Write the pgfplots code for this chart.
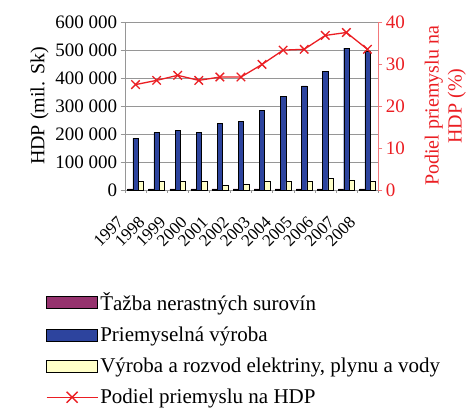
\documentclass[border=0pt]{standalone}
\usepackage{fontspec}
\setmainfont{Liberation Serif}
\usepackage{pgfplots}
\pgfplotsset{compat=1.18}

\definecolor{tazba}{RGB}{150,50,110}
\definecolor{vyroba}{RGB}{45,68,158}
\definecolor{energia}{RGB}{255,255,200}
\definecolor{gridgray}{RGB}{150,150,150}
\definecolor{podiel}{RGB}{235,30,35}

\pgfplotsset{
    boxlegend/.style={legend image code/.code={\draw[##1] (0pt,-6pt) rectangle (51pt,6pt);}},
    linelegend/.style={legend image code/.code={
        \draw[podiel, line width=1.3pt] (0pt,0pt) -- (51pt,0pt);
        \draw[podiel, line width=1.3pt] (20pt,-5.5pt) -- (31pt,5.5pt) (20pt,5.5pt) -- (31pt,-5.5pt);}},
}

\begin{document}
\begin{tikzpicture}
\begin{axis}[
    name=ax,
    scale only axis, width=253pt, height=168pt,
    xmin=-0.5, xmax=11.5, ymin=0, ymax=600000,
    ybar=0pt, bar width=5.3pt,
    axis y line*=left, axis x line*=bottom,
    axis line style={gridgray},
    xtick={0,...,11},
    xticklabels={1997,1998,1999,2000,2001,2002,2003,2004,2005,2006,2007,2008},
    major x tick style={draw=none},
    minor xtick={-0.5,0.5,...,11.5},
    minor x tick style={gridgray},
    ytick={0,100000,200000,300000,400000,500000,600000},
    yticklabels={0,100 000,200 000,300 000,400 000,500 000,600 000},
    scaled y ticks=false,
    y tick style={gridgray},
    tick align=outside,
    ymajorgrids, grid style={gridgray},
    yticklabel style={font=\fontsize{19}{20}\selectfont},
    xticklabel style={xshift=-19pt, yshift=-16pt, rotate=45, anchor=north east, font=\fontsize{17}{18}\selectfont},
    ylabel={HDP (mil. Sk)},
    ylabel style={font=\fontsize{20}{22}\selectfont},
    legend style={at={(-0.325,-0.585)}, anchor=north west, draw=none, fill=none,
        font=\fontsize{21}{23}\selectfont, row sep=11pt,
        /tikz/every even column/.append style={column sep=2pt}},
    legend cell align=left,
]
\addplot[draw=black, fill=tazba, boxlegend]
    coordinates {(0,4000) (1,4000) (2,4000) (3,4000) (4,4000) (5,4000)
                 (6,4000) (7,4000) (8,4000) (9,4000) (10,4000) (11,4000)};
\addlegendentry{Ťažba nerastných surovín}
\addplot[draw=black, fill=vyroba, boxlegend]
    coordinates {(0,185000) (1,205000) (2,213000) (3,205000) (4,238000) (5,244000)
                 (6,284000) (7,335000) (8,372000) (9,423000) (10,507000) (11,496000)};
\addlegendentry{Priemyselná výroba}
\addplot[draw=black, fill=energia, boxlegend]
    coordinates {(0,30000) (1,30000) (2,30000) (3,30000) (4,18000) (5,22000)
                 (6,30000) (7,30000) (8,30000) (9,42000) (10,36000) (11,30000)};
\addlegendentry{Výroba a rozvod elektriny, plynu a vody}
\addlegendimage{podiel, linelegend}
\addlegendentry{Podiel priemyslu na HDP}
\end{axis}

\begin{axis}[
    scale only axis, width=253pt, height=168pt,
    xmin=-0.5, xmax=11.5, ymin=0, ymax=40,
    axis y line*=right, axis x line=none,
    axis line style={podiel!60},
    ytick={0,10,20,30,40},
    yticklabels={0,10,20,30,40},
    y tick style={podiel!60},
    tick align=outside,
    yticklabel style={font=\fontsize{19}{20}\selectfont, text=podiel},
    ylabel={Podiel priemyslu na\\HDP (\%)},
    ylabel shift=13pt,
    ylabel style={font=\fontsize{20}{23}\selectfont, text=podiel, align=center},
]
\addplot[podiel, line width=1.3pt, mark=x, mark size=6pt]
    coordinates {(0,25.1) (1,26.1) (2,27.3) (3,26.1) (4,26.9) (5,26.9)
                 (6,29.9) (7,33.3) (8,33.5) (9,36.8) (10,37.5) (11,33.5)};
\end{axis}

\pgfresetboundingbox
\path[use as bounding box] ([shift={(-125pt,-219pt)}]ax.south west) rectangle ([shift={(345pt,190pt)}]ax.south west);
\end{tikzpicture}
\end{document}
